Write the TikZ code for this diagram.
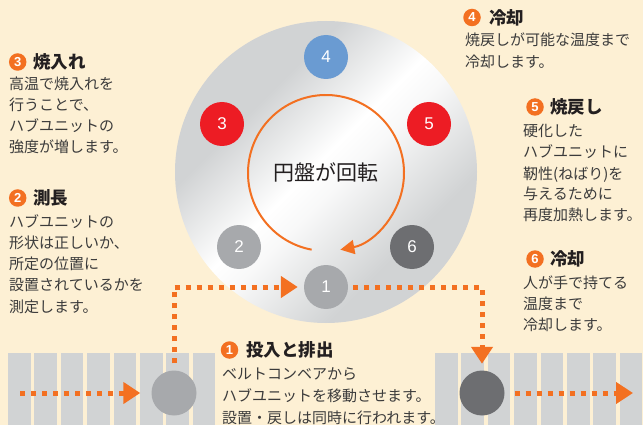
\documentclass[tikz,border=0pt]{standalone}
\usepackage{fontspec}
\setmainfont{Noto Sans CJK JP}
\newfontfamily\numfont{Liberation Sans}
\usetikzlibrary{arrows.meta}
\definecolor{bg}{HTML}{FDF0D4}
\definecolor{org}{HTML}{F37021}
\definecolor{dg}{HTML}{D1D3D4}
\definecolor{redc}{HTML}{ED1C24}
\definecolor{bluec}{HTML}{6A9BD2}
\definecolor{greyc}{HTML}{A7A9AC}
\definecolor{darkc}{HTML}{6D6E71}
\definecolor{txt}{HTML}{3B3B3B}
\definecolor{ttl}{HTML}{231F20}
\pgfdeclarehorizontalshading{metal}{100bp}{color(0bp)=(dg); color(34bp)=(dg); color(48bp)=(white); color(53bp)=(white!85!dg); color(68bp)=(dg); color(100bp)=(dg)}
\begin{document}
\begin{tikzpicture}[x=1pt,y=-1pt,
  station/.style={circle, minimum size=44pt, inner sep=0, text=white, font=\numfont\fontsize{17}{17}\selectfont},
  hub/.style={circle, minimum size=45pt, inner sep=0},
  badge/.style={circle, fill=org, minimum size=17.5pt, inner sep=0, text=white, font=\numfont\bfseries\fontsize{13}{13}\selectfont},
  ttlstyle/.style={anchor=west, inner sep=0, text=ttl, font=\bfseries\fontsize{17.5}{17.5}\selectfont},
  body/.style={anchor=west, inner sep=0, text=txt, text height=0.8em, text depth=0.2em, font=\fontsize{15}{15}\selectfont},
  dots/.style={draw=org, line width=5pt, dash pattern=on 5pt off 6pt},
  bigtip/.style={-{Triangle[length=17pt,width=21pt]}}
]
\fill[bg] (0,0) rectangle (643,425);
\useasboundingbox (0,0) rectangle (643,425);
% disc
\shade[shading=metal, shading angle=-45] (326,172) circle[radius=151];
\coordinate (ctr) at (326,173);
\node[font=\fontsize{21}{21}\selectfont, text=ttl] (lbl) at (326,172) {円盤が回転};
\draw[org, line width=2pt, -{Triangle[length=14pt,width=14pt]}] ([shift={(100.6:78)}]ctr) arc[start angle=100.6, end angle=439.4, radius=78];
% stations
\node[station, fill=bluec] (s4) at (326,57) {4};
\node[station, fill=redc] (s3) at (222,124) {3};
\node[station, fill=redc] (s5) at (429,124) {5};
\node[station, fill=greyc] (s2) at (239,247) {2};
\node[station, fill=darkc] (s6) at (412,247) {6};
\node[station, fill=greyc] (s1) at (326,287) {1};
% conveyors
\foreach \i in {0,...,7} {
  \fill[dg] (8+26.4*\i,353) rectangle ++(22.5,80);
  \fill[dg] (435+26.4*\i,353) rectangle ++(22.5,80);
}
\node[hub, fill=greyc] (lhub) at (174,393) {};
\node[hub, fill=darkc] (rhub) at (482,393) {};
\coordinate (lin) at (20,393);
\coordinate (rout) at (633,393);
\draw[dots, bigtip, shorten >=11pt] (lin) -- (lhub.west);
\draw[dots, bigtip, shorten <=7pt, shorten >=6pt] (lhub.north) |- (s1.west);
\draw[dots, bigtip, shorten <=5pt, shorten >=6.5pt] (s1.east) -| (rhub.north);
\draw[dots, bigtip, shorten <=10pt] (rhub.east) -- (rout);
% text block 3
\node[badge] (b3) at (17.7,62) {3};
\node[ttlstyle] (t3) at (33,62) {焼入れ};
\node[body] (p3a) at (9,87) {高温で焼入れを};
\node[body] (p3b) at (9,108) {行うことで、};
\node[body] (p3c) at (9,129) {ハブユニットの};
\node[body] (p3d) at (9,150) {強度が増します。};
% text block 2
\node[badge] (b2) at (17.7,198) {2};
\node[ttlstyle] (t2) at (33,198) {測長};
\node[body] (p2a) at (9,224) {ハブユニットの};
\node[body] (p2b) at (9,245) {形状は正しいか、};
\node[body] (p2c) at (9,266) {所定の位置に};
\node[body] (p2d) at (9,287) {設置されているかを};
\node[body] (p2e) at (9,309) {測定します。};
% text block 4
\node[badge] (b4) at (472,17.5) {4};
\node[ttlstyle] (t4) at (489,17.5) {冷却};
\node[body] (p4a) at (465,43) {焼戻しが可能な温度まで};
\node[body] (p4b) at (465,65) {冷却します。};
% text block 5
\node[badge] (b5) at (535,107) {5};
\node[ttlstyle] (t5) at (550,107) {焼戻し};
\node[body] (p5a) at (523,134) {硬化した};
\node[body] (p5b) at (523,155) {ハブユニットに};
\node[body] (p5c) at (523,176) {靭性(ねばり)を};
\node[body] (p5d) at (523,197) {与えるために};
\node[body] (p5e) at (523,218) {再度加熱します。};
% text block 6
\node[badge] (b6) at (535,259) {6};
\node[ttlstyle] (t6) at (550,259) {冷却};
\node[body] (p6a) at (523,285) {人が手で持てる};
\node[body] (p6b) at (523,306) {温度まで};
\node[body] (p6c) at (523,327) {冷却します。};
% text block 1
\node[badge] (b1) at (229.5,350) {1};
\node[ttlstyle] (t1) at (246,350) {投入と排出};
\node[body] (p1a) at (222,376) {ベルトコンベアから};
\node[body] (p1b) at (222,398) {ハブユニットを移動させます。};
\node[body] (p1c) at (222,420) {設置・戻しは同時に行われます。};
\end{tikzpicture}
\end{document}
